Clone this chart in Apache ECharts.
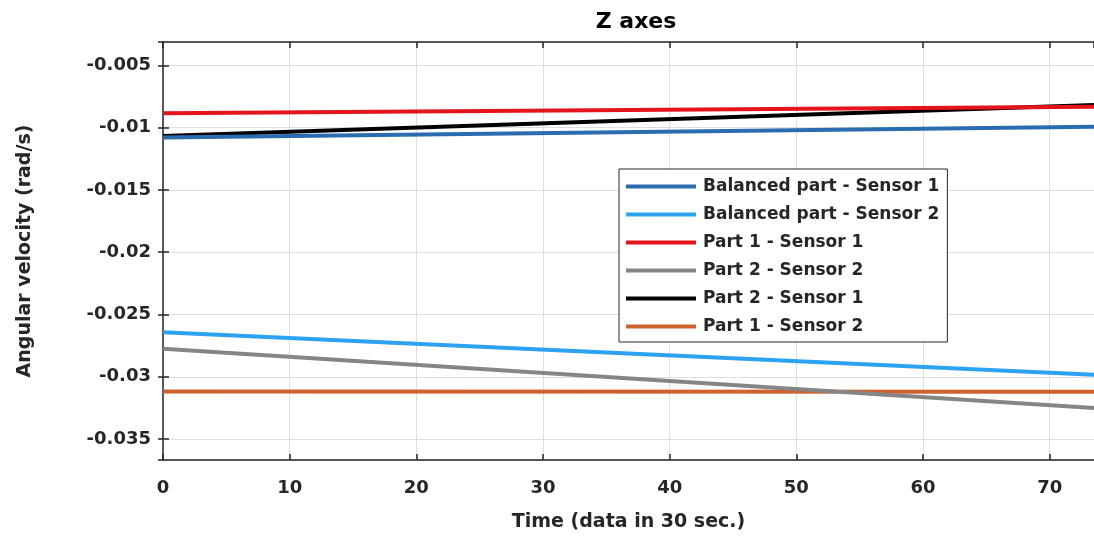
<!DOCTYPE html>
<html>
<head>
<meta charset="utf-8">
<script src="https://cdn.jsdelivr.net/npm/echarts@6/dist/echarts.min.js"></script>
<style>
html,body{margin:0;padding:0;background:#fff;}
#chart{width:1094px;height:539px;}
</style>
</head>
<body>
<div id="chart"></div>
<script>
// Data (straight lines, start and end points)
const timeValues = [0, 73.5];
const balancedSensor1 = [-0.0108, -0.00993];
const balancedSensor2 = [-0.02642, -0.02984];
const part1Sensor1 = [-0.00885, -0.00832];
const part2Sensor2 = [-0.02776, -0.03251];
const part2Sensor1 = [-0.01067, -0.00818];
const part1Sensor2 = [-0.03118, -0.03121];

const seriesNames = [
  'Balanced part - Sensor 1',
  'Balanced part - Sensor 2',
  'Part 1 - Sensor 1',
  'Part 2 - Sensor 2',
  'Part 2 - Sensor 1',
  'Part 1 - Sensor 2'
];
const seriesValues = [balancedSensor1, balancedSensor2, part1Sensor1, part2Sensor2, part2Sensor1, part1Sensor2];
const seriesColors = ['#2a6cb0', '#2ba3f2', '#e3141b', '#858585', '#000000', '#d0612c'];

const FONT = 'DejaVu Sans';
const TXT = '#262626';

const chart = echarts.init(document.getElementById('chart'), null, {renderer: 'canvas'});

const series = seriesNames.map((name, i) => ({
  name: name,
  type: 'line',
  data: timeValues.map((t, j) => [t, seriesValues[i][j]]),
  showSymbol: false,
  symbol: 'none',
  lineStyle: {width: 4, color: seriesColors[i]},
  itemStyle: {color: seriesColors[i]},
  z: 10 - i,
  animation: false
}));

const fmtY = v => {
  const r = Math.round(v * 1000) / 1000;
  return String(parseFloat(r.toFixed(3)));
};

chart.setOption({
  animation: false,
  backgroundColor: '#fff',
  title: {
    text: 'Z axes',
    left: 631,
    top: 6,
    textAlign: 'center',
    textStyle: {fontFamily: FONT, fontWeight: 'bold', fontSize: 22, color: '#000'}
  },
  grid: {left: 163, top: 42, right: 0, bottom: 79, containLabel: false},
  legend: {
    orient: 'vertical',
    left: 619,
    top: 169,
    padding: [9, 8, 7, 7],
    itemGap: 11,
    itemWidth: 70,
    itemHeight: 4,
    icon: 'rect',
    backgroundColor: '#fff',
    borderColor: '#262626',
    borderWidth: 1,
    borderRadius: 0,
    data: seriesNames,
    textStyle: {fontFamily: FONT, fontWeight: 'bold', fontSize: 17, color: TXT, padding: [0, 0, 0, 2]}
  },
  xAxis: [{
    type: 'value',
    min: 0,
    max: 73.5,
    interval: 10,
    name: 'Time (data in 30 sec.)',
    nameLocation: 'middle',
    nameGap: 53,
    nameTextStyle: {fontFamily: FONT, fontWeight: 'bold', fontSize: 19, color: TXT},
    axisLine: {show: true, lineStyle: {color: '#262626', width: 1.5}},
    axisTick: {show: true, inside: true, length: 6, lineStyle: {color: '#262626', width: 1.5}},
    axisLabel: {fontFamily: FONT, fontWeight: 'bold', fontSize: 18, color: TXT, margin: 19, showMaxLabel: false},
    splitLine: {show: true, lineStyle: {color: '#dedede', width: 1}}
  }, {
    type: 'value',
    position: 'top',
    min: 0,
    max: 73.5,
    interval: 10,
    axisLine: {show: true, lineStyle: {color: '#262626', width: 1.5}},
    axisTick: {show: true, inside: true, length: 6, lineStyle: {color: '#262626', width: 1.5}},
    axisLabel: {show: false},
    splitLine: {show: false}
  }],
  yAxis: [{
    type: 'value',
    min: -0.03668,
    max: -0.00313,
    minInterval: 0.005,
    maxInterval: 0.005,
    splitNumber: 7,
    name: 'Angular velocity (rad/s)',
    nameLocation: 'middle',
    nameGap: 128,
    nameRotate: 90,
    nameTextStyle: {fontFamily: FONT, fontWeight: 'bold', fontSize: 19, color: TXT},
    axisLine: {show: true, lineStyle: {color: '#262626', width: 1.5}},
    axisTick: {show: true, inside: true, length: 6, lineStyle: {color: '#262626', width: 1.5}},
    axisLabel: {fontFamily: FONT, fontWeight: 'bold', fontSize: 18, color: TXT, margin: 12,
      showMinLabel: false, showMaxLabel: false, formatter: fmtY},
    splitLine: {show: true, lineStyle: {color: '#dedede', width: 1}}
  }, {
    type: 'value',
    position: 'right',
    min: -0.03668,
    max: -0.00313,
    minInterval: 0.005,
    maxInterval: 0.005,
    splitNumber: 7,
    axisLine: {show: false},
    axisTick: {show: true, inside: true, length: 5, lineStyle: {color: '#262626', width: 1.5}},
    axisLabel: {show: false},
    splitLine: {show: false}
  }],
  series: series
});
</script>
</body>
</html>
